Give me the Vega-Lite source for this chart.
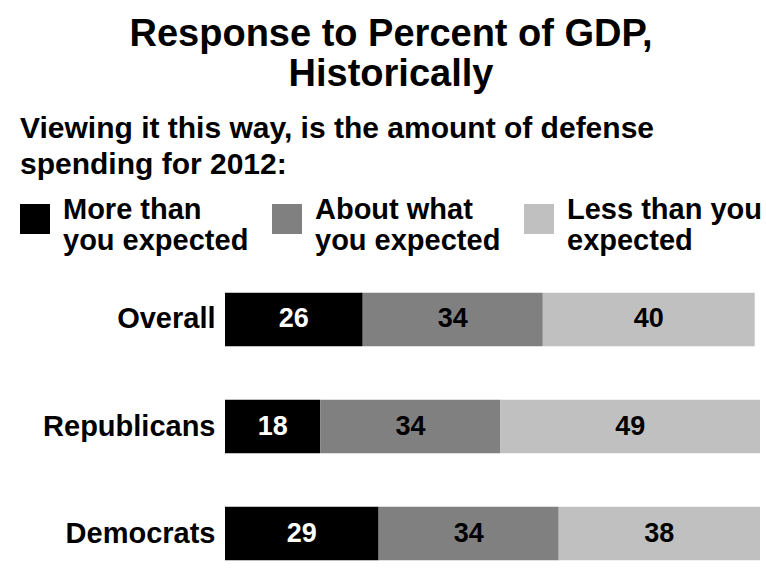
{
  "$schema": "https://vega.github.io/schema/vega-lite/v6.json",
  "width": 535,
  "height": 289,
  "autosize": {"type": "none"},
  "padding": {"left": 225, "top": 282, "right": 6, "bottom": 9},
  "background": "white",
  "title": {
    "text": ["Response to Percent of GDP,", "Historically"],
    "fontSize": 38,
    "lineHeight": 40,
    "font": "Liberation Sans",
    "fontWeight": "bold",
    "color": "black",
    "anchor": "middle",
    "frame": "bounds",
    "offset": 20
  },
  "data": {
    "values": [
      {"group": "Overall", "cat": "More than you expected", "rank": 1, "value": 26},
      {"group": "Overall", "cat": "About what you expected", "rank": 2, "value": 34},
      {"group": "Overall", "cat": "Less than you expected", "rank": 3, "value": 40},
      {"group": "Republicans", "cat": "More than you expected", "rank": 1, "value": 18},
      {"group": "Republicans", "cat": "About what you expected", "rank": 2, "value": 34},
      {"group": "Republicans", "cat": "Less than you expected", "rank": 3, "value": 49},
      {"group": "Democrats", "cat": "More than you expected", "rank": 1, "value": 29},
      {"group": "Democrats", "cat": "About what you expected", "rank": 2, "value": 34},
      {"group": "Democrats", "cat": "Less than you expected", "rank": 3, "value": 38}
    ]
  },
  "encoding": {
    "y": {
      "field": "group",
      "type": "nominal",
      "sort": ["Overall", "Republicans", "Democrats"],
      "scale": {"paddingInner": 0.5, "paddingOuter": 0.1},
      "axis": {
        "title": null,
        "domain": false,
        "ticks": false,
        "labelFontSize": 29,
        "labelFont": "Liberation Sans",
        "labelFontWeight": "bold",
        "labelColor": "black",
        "labelPadding": 10
      }
    },
    "x": {
      "field": "value",
      "type": "quantitative",
      "stack": "zero",
      "scale": {"domain": [0, 101], "nice": false},
      "axis": null
    },
    "order": {"field": "rank", "type": "quantitative"}
  },
  "layer": [
    {
      "mark": {"type": "bar"},
      "encoding": {
        "color": {
          "field": "cat",
          "type": "nominal",
          "sort": ["More than you expected", "About what you expected", "Less than you expected"],
          "scale": {
            "domain": ["More than you expected", "About what you expected", "Less than you expected"],
            "range": ["#000000", "#808080", "#c0c0c0"]
          },
          "legend": {
            "orient": "none",
            "legendX": -205,
            "legendY": -168,
            "direction": "horizontal",
            "columns": 3,
            "gridAlign": "all",
            "columnPadding": 14,
            "title": ["Viewing it this way, is the amount of defense", "spending for 2012:"],
            "titleFont": "Liberation Sans",
            "titleFontSize": 30,
            "titleFontWeight": "bold",
            "titleColor": "black",
            "titleLimit": 800,
            "titleLineHeight": 36,
            "titlePadding": 24,
            "symbolType": "square",
            "symbolSize": 900,
            "symbolStrokeWidth": 0,
            "labelFont": "Liberation Sans",
            "labelFontSize": 29,
            "labelFontWeight": "bold",
            "labelColor": "black",
            "labelLimit": 400,
            "labelOffset": 13,
            "labelLineHeight": 32,
            "labelBaseline": "alphabetic",
            "labelExpr": "datum.label == 'More than you expected' ? ['More than', 'you expected'] : datum.label == 'About what you expected' ? ['About what', 'you expected'] : ['Less than you', 'expected']"
          }
        }
      }
    },
    {
      "mark": {
        "type": "text",
        "font": "Liberation Sans",
        "fontSize": 27,
        "fontWeight": "bold",
        "baseline": "middle",
        "align": "center"
      },
      "encoding": {
        "x": {
          "field": "value",
          "type": "quantitative",
          "stack": "zero",
          "bandPosition": 0.5
        },
        "detail": {"field": "cat"},
        "text": {"field": "value", "type": "quantitative"},
        "color": {
          "condition": {"test": "datum.cat === 'More than you expected'", "value": "white"},
          "value": "black"
        }
      }
    }
  ],
  "config": {
    "view": {"stroke": null}
  }
}
